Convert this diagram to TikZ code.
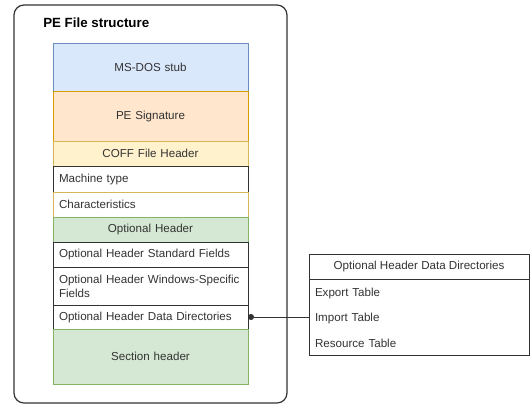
\documentclass[tikz,border=0pt]{standalone}
\usepackage{fontspec}
\setmainfont{Liberation Sans}
\usetikzlibrary{positioning,calc,arrows.meta}

\definecolor{dosfill}{HTML}{DAE8FC}
\definecolor{dosline}{HTML}{6C8EBF}
\definecolor{sigfill}{HTML}{FFE6CC}
\definecolor{sigline}{HTML}{D79B00}
\definecolor{cofffill}{HTML}{FFF2CC}
\definecolor{coffline}{HTML}{D6B656}
\definecolor{optfill}{HTML}{D5E8D4}
\definecolor{optline}{HTML}{82B366}
\definecolor{edge}{HTML}{333333}

\begin{document}
\begin{tikzpicture}[x=0.75pt,y=-0.75pt,
		font=\fontsize{8.7}{10.4}\selectfont,
		row/.style={draw=edge, fill=white, line width=0.75pt, outer sep=0pt, inner xsep=4.5pt, inner ysep=0pt,
			text width=137.25pt, minimum height=18.75pt, align=left, text=edge},
		mid/.style={align=center},
		item/.style={outer sep=0pt, inner xsep=4.5pt, inner ysep=0pt, text width=156pt, minimum height=18.75pt,
			align=left, text=edge}]
			\useasboundingbox (0,0) rectangle (531,405);

			\node[draw=edge, rounded corners=7.5pt, line width=0.9pt, outer sep=0pt, minimum width=204.75pt,
				minimum height=298.5pt, anchor=north west] (frame) at (14,5) {};
			\node[font=\fontsize{10}{12}\selectfont\bfseries, anchor=west, inner sep=0pt] (title) at (43,23) {PE File structure};

			%file column
			\node[row, mid, fill=dosfill, draw=dosline, minimum height=36pt, anchor=north west] (dos) at (53,43) {MS-DOS stub};
			\node[row, mid, fill=sigfill, draw=sigline, minimum height=37.5pt, below=0pt of dos] (sig) {PE Signature};
			\node[row, mid, fill=cofffill, draw=coffline, below=0pt of sig] (coff) {COFF File Header};
			\node[row, minimum height=19.5pt, below=0pt of coff] (machine) {Machine type};
			\node[row, draw=coffline, below=0pt of machine] (chars) {Characteristics};
			\node[row, mid, fill=optfill, draw=optline, below=0pt of chars] (opt) {Optional Header};
			\node[row, below=0pt of opt] (stdf) {Optional Header Standard Fields};
			\node[row, minimum height=28.5pt, below=0pt of stdf] (winf) {Optional Header Windows-Specific\\Fields};
			\node[row, minimum height=18pt, below=0pt of winf] (ddir) {Optional Header Data Directories};
			\node[row, mid, fill=optfill, draw=optline, minimum height=41.25pt, below=0pt of ddir] (sect) {Section header};

			%data directories table
			\node[draw=edge, fill=white, line width=0.75pt, outer sep=0pt, minimum width=165pt, minimum height=18.75pt,
				anchor=north west, text=edge] (ddhead) at (309,254) {Optional Header Data Directories};
			\node[item, below=1.5pt of ddhead] (export) {Export Table};
			\node[item, below=0pt of export] (import) {Import Table};
			\node[item, below=0pt of import] (resource) {Resource Table};
			\draw[edge, line width=0.75pt] (ddhead.north west) rectangle ($(resource.south east)+(0,-1)$);

			\draw[edge, line width=0.75pt, {Circle[length=4.5pt]}-] (ddir.east) -- (ddir.east -| import.west);

		\end{tikzpicture}
\end{document}
